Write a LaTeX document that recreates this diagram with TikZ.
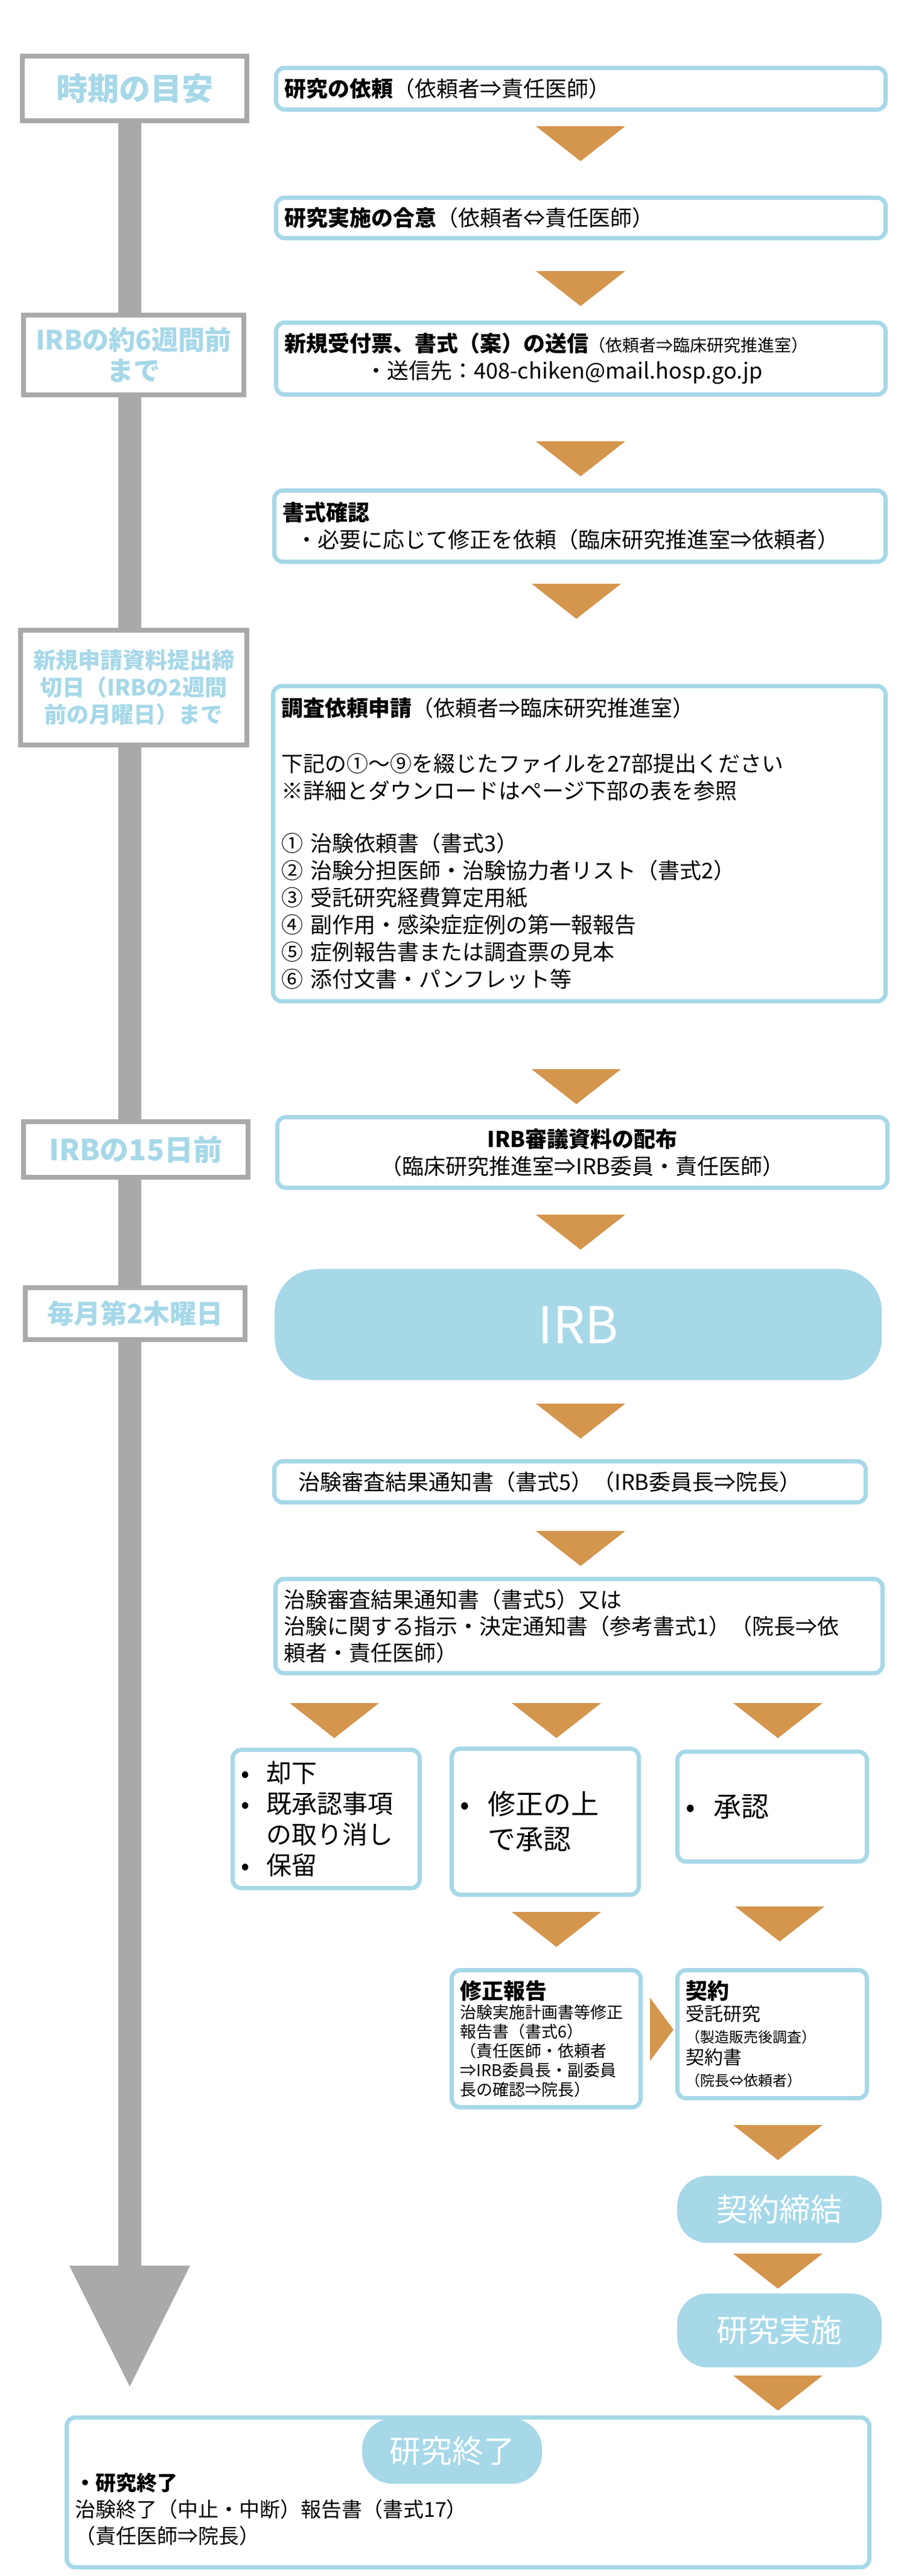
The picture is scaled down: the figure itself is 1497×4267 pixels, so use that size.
\documentclass[tikz,border=0pt]{standalone}
\usepackage{fontspec}
\setmainfont{Noto Sans CJK JP}
\usetikzlibrary{arrows.meta}
\definecolor{irbblue}{HTML}{A6D8E8}
\definecolor{stepor}{HTML}{D4954C}
\definecolor{timegray}{HTML}{A9A9A9}
\newcommand{\setfs}[2]{\fontsize{#1}{#2}\selectfont}

\begin{document}
\begin{tikzpicture}[x=1pt, y=-1pt,
    box/.style = {draw=irbblue, line width=7pt, fill=white, rounded corners=14pt, anchor=north west,
                  inner xsep=14pt, inner ysep=0pt, align=left, font=\setfs{36}{45}},
    lab/.style = {draw=timegray, line width=8pt, fill=white, anchor=north west, inner sep=0pt,
                  align=center, text=irbblue, font=\bfseries\setfs{44}{51}},
    pill/.style = {fill=irbblue, rounded corners=50pt, anchor=north west, inner sep=0pt,
                   text=white, font=\setfs{52}{60}},
    tri/.style = {fill=stepor}]
    \useasboundingbox (0,0) rectangle (1497,4267);

    % Time line
    \fill[timegray] (196,150) rectangle (234,3753);
    \fill[timegray] (115,3753) -- (315,3753) -- (215,3953) -- cycle;

    % Time labels
    \node[lab, minimum width=372pt, minimum height=107pt, font=\bfseries\setfs{52}{60}] (l1) at (33,89) {時期の目安};
    \node[lab, minimum width=365pt, minimum height=132pt] (l2) at (35,518) {IRBの約6週間前\\まで};
    \node[lab, minimum width=375pt, minimum height=190pt, font=\bfseries\setfs{37}{45}] (l3) at (30,1040) {新規申請資料提出締\\切日（IRBの2週間\\前の月曜日）まで};
    \node[lab, minimum width=372pt, minimum height=92pt, font=\bfseries\setfs{48}{55}] (l4) at (35,1854) {IRBの15日前};
    \node[lab, minimum width=364pt, minimum height=86pt] (l5) at (38,2129) {毎月第2木曜日};

    % Steps
    \node[box, text width=982pt, minimum height=69pt] (s1) at (454,109) {\textbf{研究の依頼}（依頼者⇒責任医師）};
    \node[box, text width=982pt, minimum height=67pt] (s2) at (454,324) {\textbf{研究実施の合意}（依頼者⇔責任医師）};
    \node[box, text width=982pt, minimum height=119pt] (s3) at (454,531)
        {\textbf{新規受付票、書式（案）の送信}{\setfs{28}{45}（依頼者⇒臨床研究推進室）}\\
         \hspace{134pt}・送信先：408-chiken@mail.hosp.go.jp};
    \node[box, text width=985pt, minimum height=118pt] (s4) at (451,809)
        {\textbf{書式確認}\\ \hspace{22pt}・必要に応じて修正を依頼（臨床研究推進室⇒依頼者）};
    \node[box, text width=987pt, minimum height=522pt] (s5) at (449,1133)
        {\textbf{調査依頼申請}（依頼者⇒臨床研究推進室）\\[47pt]
         下記の①～⑨を綴じたファイルを27部提出ください\\
         ※詳細とダウンロードはページ下部の表を参照\\[42pt]
         ①\ 治験依頼書（書式3）\\
         ②\ 治験分担医師・治験協力者リスト（書式2）\\
         ③\ 受託研究経費算定用紙\\
         ④\ 副作用・感染症症例の第一報報告\\
         ⑤\ 症例報告書または調査票の見本\\
         ⑥\ 添付文書・パンフレット等};
    \node[box, text width=983pt, minimum height=117pt, align=center] (s6) at (456,1847)
        {\textbf{IRB審議資料の配布}\\（臨床研究推進室⇒IRB委員・責任医師）};
    \node[pill, minimum width=1006pt, minimum height=184pt, rounded corners=70pt, font=\setfs{84}{90}] (irb) at (455,2102) {IRB};
    \node[box, text width=900pt, minimum height=68pt, inner xsep=40pt] (s8) at (451,2417)
        {治験審査結果通知書（書式5）（IRB委員長⇒院長）};
    \node[box, text width=978pt, minimum height=156pt, font=\setfs{36}{44}] (s9) at (453,2612)
        {治験審査結果通知書（書式5）又は\\治験に関する指示・決定通知書（参考書式1）（院長⇒依\\頼者・責任医師）};

    % Decisions
    \node[box, text width=282pt, minimum height=229pt, font=\setfs{42}{51}] (rej) at (382,2895)
        {•\ \ 却下\\•\ \ 既承認事項\\\phantom{•\ \ }の取り消し\\•\ \ 保留};
    \node[box, text width=282pt, minimum height=242pt, font=\setfs{46}{58}] (mod) at (745,2893)
        {•\ \ 修正の上\\\phantom{•\ \ }で承認};
    \node[box, text width=286pt, minimum height=182pt, font=\setfs{46}{58}] (ok) at (1119,2898) {•\ \ 承認};

    \node[box, text width=285pt, minimum height=227pt, font=\setfs{27}{32}] (rep) at (745,3260)
        {{\bfseries\setfs{36}{42}修正報告}\\治験実施計画書等修正\\報告書（書式6）\\（責任医師・依頼者\\⇒IRB委員長・副委員\\長の確認⇒院長）};
    \node[box, text width=286pt, minimum height=212pt, font=\setfs{31}{36}] (con) at (1119,3260)
        {{\bfseries\setfs{36}{42}契約}\\受託研究\\{\setfs{24}{34}（製造販売後調査）}\\契約書\\{\setfs{24}{34}（院長⇔依頼者）}};

    \node[pill, minimum width=339pt, minimum height=111pt] (sign) at (1122,3604) {契約締結};
    \node[pill, minimum width=339pt, minimum height=122pt] (run) at (1122,3799) {研究実施};

    % End
    \node[box, minimum width=1330pt, minimum height=248pt] (end) at (107,4001) {};
    \node[pill, minimum width=298pt, minimum height=108pt] (fin) at (600,4006) {研究終了};
    \node[anchor=north west, inner sep=0pt, align=left, font=\setfs{34}{44}] (endtxt) at (124,4096)
        {\textbf{・研究終了}\\治験終了（中止・中断）報告書（書式17）\\（責任医師⇒院長）};

    % Arrows
    \foreach \ax/\ay in {962/209, 962/449, 962/731, 955/967, 955/1771, 962/2012, 962/2325, 962/2536,
                         554/2821, 922/2821, 1289/2821, 922/3167, 1292/3158, 1289/3520, 1289/3733, 1289/3935}
        \fill[tri] ({\ax-74},\ay) -- ({\ax+74},\ay) -- (\ax,{\ay+58}) -- cycle;
    \fill[tri] (1077,3309) -- (1116,3362) -- (1077,3414) -- cycle;
\end{tikzpicture}
\end{document}
